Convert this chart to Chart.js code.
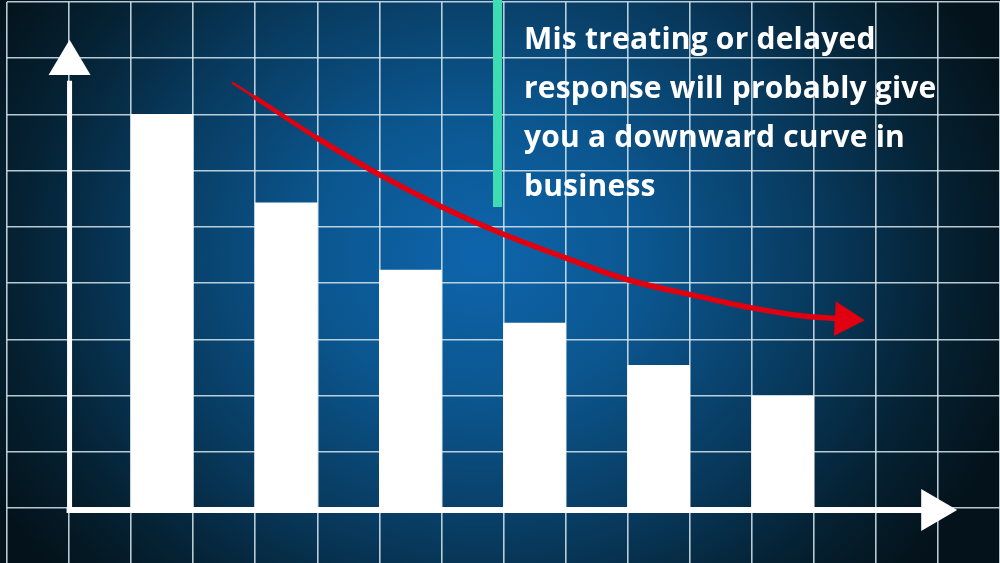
<!DOCTYPE html>
<html>
<head>
<meta charset="utf-8">
<script src="https://cdn.jsdelivr.net/npm/chart.js@4"></script>
<style>
  html, body { margin: 0; padding: 0; width: 1000px; height: 563px; overflow: hidden; }
  body {
    background: radial-gradient(ellipse 560px 480px at 480px 255px, #0e65ac 0%, #0b568f 30%, #083a5e 60%, #052234 82%, #04131b 100%);
    position: relative;
  }
  #wrap { position: absolute; left: 0; top: 0; width: 1000px; height: 563px; }
  #marker { position: absolute; left: 493px; top: 0; width: 9px; height: 207px; background: #3ddcb2; }
  #note {
    position: absolute; left: 524px; top: 13px; width: 476px;
    font-family: "Open Sans", Lato, sans-serif; font-weight: 700; font-size: 30px;
    letter-spacing: 0.2px; line-height: 49px; color: #ffffff; white-space: nowrap;
  }
</style>
</head>
<body>
<div id="wrap"><canvas id="chart" width="1000" height="563"></canvas></div>
<div id="marker"></div>
<div id="note">Mis treating or delayed<br>response will probably give<br>you a downward curve in<br>business</div>
<script>
// grid columns (16 slots, bars sit in every other one)
const slots = ['s1', 's2', 's3', 's4', 's5', 's6', 's7', 's8', 's9', 's10', 's11', 's12', 's13', 's14', 's15', 's16'];
const barSlots = [2, 4, 6, 8, 10, 12];
const barValues = [7.0, 5.43, 4.23, 3.29, 2.54, 1.99];

// the red trend arrow, in grid units
const curveX = [3.64, 4.0, 5.0, 6.0, 7.0, 7.95, 9.0, 10.0, 11.2, 12.0, 12.8, 13.5];
const curveY = [7.56, 7.30, 6.58, 5.93, 5.36, 4.89, 4.45, 4.06, 3.75, 3.56, 3.42, 3.36];

const yMin = -0.978; // grid keeps going below the x axis
const yMax = 9;

// build slot data for the bars
const barData = slots.map(() => null);
barSlots.forEach((s, i) => { barData[s] = barValues[i]; });

const curveData = curveX.map((x, i) => ({ x: x, y: curveY[i] }));
const last = curveData.length - 1;

// white axes with arrow heads
const axesArrows = {
  id: 'axesArrows',
  afterDatasetsDraw(chart) {
    const ctx = chart.ctx;
    const x2 = chart.scales.x2;
    const y = chart.scales.y;
    const ax = x2.getPixelForValue(1) + 0.5;
    const ay = y.getPixelForValue(0) + 2;
    ctx.save();
    ctx.fillStyle = '#ffffff';
    ctx.strokeStyle = '#ffffff';
    // x axis
    ctx.lineWidth = 6;
    ctx.beginPath();
    ctx.moveTo(ax - 3, ay);
    ctx.lineTo(x2.getPixelForValue(14.8), ay);
    ctx.stroke();
    const bx = x2.getPixelForValue(14.73), tx = x2.getPixelForValue(15.31);
    ctx.beginPath();
    ctx.moveTo(bx, ay - 21);
    ctx.lineTo(tx, ay);
    ctx.lineTo(bx, ay + 21);
    ctx.closePath();
    ctx.fill();
    // y axis
    ctx.lineWidth = 5;
    ctx.beginPath();
    ctx.moveTo(ax, ay + 2);
    ctx.lineTo(ax, y.getPixelForValue(7.6));
    ctx.stroke();
    const by = y.getPixelForValue(7.70), ty = y.getPixelForValue(8.33);
    ctx.beginPath();
    ctx.moveTo(ax - 21, by);
    ctx.lineTo(ax, ty);
    ctx.lineTo(ax + 21, by);
    ctx.closePath();
    ctx.fill();
    ctx.restore();
  }
};

new Chart(document.getElementById('chart'), {
  type: 'bar',
  data: {
    labels: slots,
    datasets: [
      {
        type: 'line',
        data: curveData,
        xAxisID: 'x2',
        yAxisID: 'y',
        borderColor: '#e1000f',
        backgroundColor: '#e1000f',
        borderWidth: 5.5,
        tension: 0.4,
        borderCapStyle: 'round',
        pointRadius: curveData.map((p, i) => i === last ? 20 : 0),
        pointStyle: 'triangle',
        pointRotation: 93,
        pointBorderWidth: 0,
        segment: {
          borderWidth: c => c.p0DataIndex === 0 ? 2.5 : (c.p0DataIndex === 1 ? 4.5 : 5.5)
        }
      },
      {
        data: barData,
        xAxisID: 'x',
        grouped: false,
        backgroundColor: '#ffffff',
        borderWidth: 0,
        barPercentage: 1,
        categoryPercentage: 1
      }
    ]
  },
  options: {
    responsive: false,
    animation: false,
    layout: { autoPadding: false, padding: { left: 7, top: 2, right: 0, bottom: 0 } },
    plugins: { legend: { display: false }, tooltip: { enabled: false } },
    scales: {
      x: {
        type: 'category',
        offset: true,
        ticks: { display: false },
        border: { display: false },
        grid: { offset: true, drawTicks: false, color: 'rgba(215,232,240,0.85)', lineWidth: 1.6 }
      },
      x2: {
        type: 'linear',
        display: false,
        offset: false,
        min: 0,
        max: 16
      },
      y: {
        min: yMin,
        max: yMax,
        ticks: { display: false, stepSize: 1 },
        afterBuildTicks: s => { s.ticks = s.ticks.filter(t => Number.isInteger(t.value) && t.value >= 0); },
        border: { display: false },
        grid: { drawTicks: false, color: 'rgba(215,232,240,0.85)', lineWidth: 1.6 }
      }
    }
  },
  plugins: [axesArrows]
});
</script>
</body>
</html>
